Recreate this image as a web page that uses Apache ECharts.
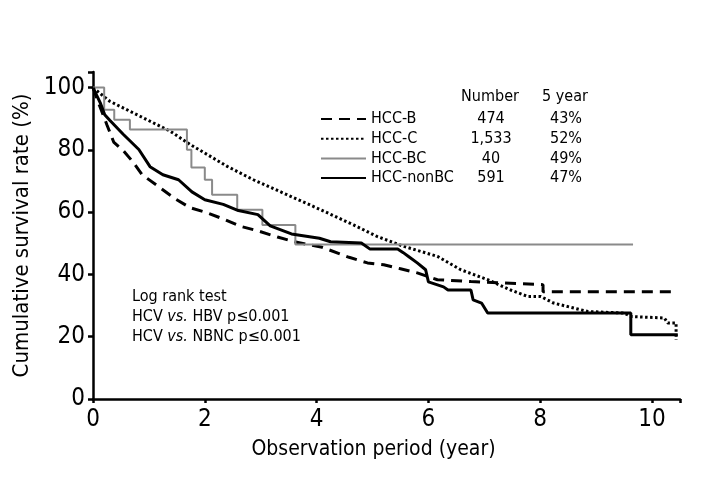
<!DOCTYPE html>
<html>
<head>
<meta charset="utf-8">
<script src="https://cdn.jsdelivr.net/npm/echarts@6/dist/echarts.min.js"></script>
<style>
html,body{margin:0;padding:0;background:#fff;}
#chart{width:720px;height:498px;}
</style>
</head>
<body>
<div id="chart"></div>
<script>
// ---- data ----
const seriesNames = ['HCC-B', 'HCC-C', 'HCC-BC', 'HCC-nonBC'];
const patientNumbers = ['474', '1,533', '40', '591'];
const fiveYearRates = ['43%', '52%', '49%', '47%'];
const legendHeaders = ['Number', '5 year'];
const xTicks = [0, 2, 4, 6, 8, 10];
const yTicks = [0, 20, 40, 60, 80, 100];

// HCC-B (dashed)
const hccBYears = [0, 0.1, 0.25, 0.37, 0.54, 0.72, 0.88, 1.15, 1.47, 1.74, 2.04, 2.36, 2.63, 2.95, 3.3, 3.6, 4.1, 4.58, 4.91, 5.2, 5.5, 5.8, 6.16, 6.76, 8.05, 8.05, 10.42];
const hccBSurv  = [100, 95, 88, 82.5, 79.8, 76, 72, 68.5, 64.3, 61.4, 59.8, 57.6, 55.5, 54, 52, 50.5, 48.7, 45.5, 43.7, 43.1, 41.8, 40.5, 38.3, 37.7, 36.7, 34.4, 34.4];

// HCC-C (dotted)
const hccCYears = [0, 0.3, 0.84, 1.38, 1.74, 2.1, 2.4, 2.87, 3.47, 4.07, 4.66, 5.08, 5.56, 6.16, 6.58, 7.06, 7.47, 7.78, 8.01, 8.24, 8.6, 8.85, 9.5, 9.62, 10.22, 10.28, 10.43, 10.43];
const hccCSurv  = [100, 95.6, 90.8, 86.0, 81.7, 77.9, 74.7, 70.4, 65.6, 60.8, 55.9, 52.2, 49.0, 45.8, 41.5, 38.3, 35.0, 32.9, 32.9, 30.8, 29.2, 28.1, 27.6, 26.5, 26.0, 24.4, 24.4, 19.0];

// HCC-BC (gray, step)
const hccBCYears = [0, 0.2, 0.38, 0.66, 1.68, 1.76, 2.0, 2.13, 2.58, 3.03, 3.62, 9.66];
const hccBCSurv  = [100, 92.9, 89.7, 86.5, 80.0, 74.3, 70.4, 65.6, 60.8, 55.9, 49.6, 49.6];

// HCC-nonBC (solid black)
const hccNonYears = [0, 0.13, 0.21, 0.3, 0.54, 0.82, 1.02, 1.25, 1.53, 1.77, 2.0, 2.33, 2.6, 2.95, 3.17, 3.55, 4.05, 4.25, 4.8, 4.95, 5.45, 5.55, 5.65, 5.8, 5.95, 6.0, 6.27, 6.35, 6.76, 6.8, 6.95, 7.06, 9.62, 9.62, 10.46];
const hccNonSurv  = [100, 95.1, 91.3, 89.5, 85, 80.1, 74.6, 72.0, 70.4, 66.5, 64.0, 62.5, 60.5, 59.2, 55.6, 53.0, 51.6, 50.5, 50.1, 48.2, 48.2, 47, 45.7, 43.7, 41.5, 37.6, 36, 35, 35, 31.8, 30.8, 27.6, 27.6, 20.6, 20.6];

const zip = (xs, ys) => xs.map((x, i) => [x, ys[i]]);

const FONT = "'Liberation Sans Narrow', 'Arial Narrow', 'DejaVu Sans Condensed', sans-serif";

const chart = echarts.init(document.getElementById('chart'), null, {renderer: 'canvas'});

const lineDefs = [
  {name: seriesNames[0], data: zip(hccBYears, hccBSurv), lineStyle: {color: '#000', width: 3, type: [11, 7]}, step: false},
  {name: seriesNames[1], data: zip(hccCYears, hccCSurv), lineStyle: {color: '#000', width: 3, type: [2.5, 2.5]}, step: false},
  {name: seriesNames[2], data: zip(hccBCYears, hccBCSurv), lineStyle: {color: '#8a8a8a', width: 2, type: 'solid'}, step: 'end'},
  {name: seriesNames[3], data: zip(hccNonYears, hccNonSurv), lineStyle: {color: '#000', width: 3, type: 'solid'}, step: false}
];

const option = {
  backgroundColor: '#fff',
  animation: false,
  textStyle: {fontFamily: FONT, color: '#000'},
  grid: {left: 93, right: 40, top: 72, bottom: 99, containLabel: false},
  xAxis: {
    type: 'value', min: 0, max: 10.5, interval: 2,
    name: 'Observation period (year)', nameLocation: 'middle', nameGap: 40,
    nameTextStyle: {fontFamily: FONT, fontSize: 21, color: '#000', padding: [0, 26, 0, 0]},
    axisLine: {show: true, onZero: false, lineStyle: {color: '#000', width: 2.5}},
    axisTick: {show: true, length: 4, lineStyle: {color: '#000', width: 2.5}},
    axisLabel: {fontFamily: FONT, fontSize: 24, color: '#000', margin: 9,
      formatter: v => xTicks.includes(v) ? String(v) : ''},
    splitLine: {show: false}
  },
  yAxis: {
    type: 'value', min: 0, max: 105, interval: 20,
    name: 'Cumulative survival rate (%)', nameLocation: 'middle', nameGap: 58, nameRotate: 90,
    nameTextStyle: {fontFamily: FONT, fontSize: 22, color: '#000'},
    axisLine: {show: true, onZero: false, lineStyle: {color: '#000', width: 2.5}},
    axisTick: {show: true, length: 5, lineStyle: {color: '#000', width: 2.5}},
    axisLabel: {fontFamily: FONT, fontSize: 24, color: '#000', margin: 8,
      formatter: v => yTicks.includes(v) ? String(v) : ''},
    splitLine: {show: false}
  },
  legend: {
    orient: 'vertical', left: 320, top: 111, padding: 0,
    itemWidth: 45, itemHeight: 10, itemGap: 3.7,
    itemStyle: {opacity: 0, borderWidth: 0},
    data: seriesNames,
    formatter: name => {
      const i = seriesNames.indexOf(name);
      return `{n|${name}}{a|${patientNumbers[i]}}{b|${fiveYearRates[i]}}`;
    },
    textStyle: {
      fontFamily: FONT, fontSize: 16, color: '#000',
      rich: {
        n: {width: 90, align: 'left', fontSize: 16, fontFamily: FONT},
        a: {width: 60, align: 'center', fontSize: 16, fontFamily: FONT},
        b: {width: 90, align: 'center', fontSize: 16, fontFamily: FONT}
      }
    }
  },
  graphic: [
    {type: 'text', x: 490, y: 97, style: {text: legendHeaders[0], font: `16px ${FONT}`, fill: '#000', align: 'center', verticalAlign: 'middle'}},
    {type: 'text', x: 565, y: 97, style: {text: legendHeaders[1], font: `16px ${FONT}`, fill: '#000', align: 'center', verticalAlign: 'middle'}},
    {type: 'text', left: 132, top: 287, style: {
      text: 'Log rank test\nHCV {i|vs.} HBV p≤0.001\nHCV {i|vs.} NBNC p≤0.001',
      font: `16px ${FONT}`, fill: '#000', lineHeight: 20,
      rich: {i: {fontStyle: 'italic', fontFamily: FONT, fontSize: 16, lineHeight: 20}}
    }}
  ],
  series: lineDefs.map(d => ({
    type: 'line', name: d.name, data: d.data, step: d.step,
    showSymbol: false, symbol: 'none', smooth: false,
    lineStyle: d.lineStyle, itemStyle: {color: d.lineStyle.color},
    emphasis: {disabled: true}
  }))
};
chart.setOption(option);
</script>
</body>
</html>
